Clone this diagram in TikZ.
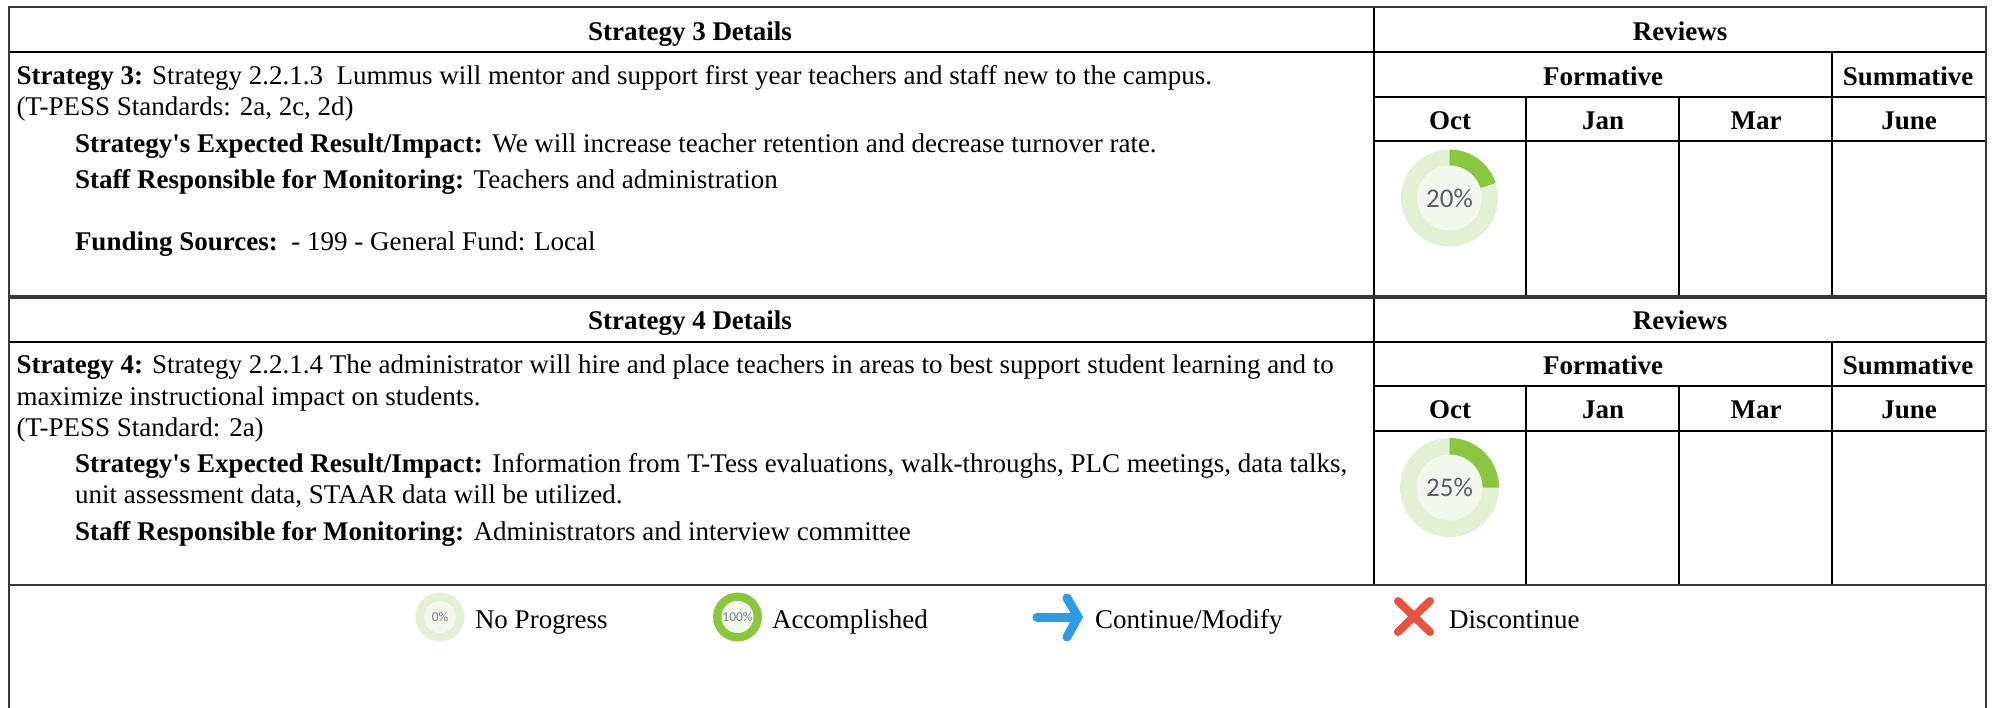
\documentclass[tikz,border=0pt]{standalone}
\usepackage{fontspec}
\setmainfont{Liberation Serif}
\newfontfamily\pctfont{Carlito}
\definecolor{ringlight}{HTML}{E2F0D3}
\definecolor{ringin}{HTML}{F2F8EC}
\definecolor{ringgreen}{HTML}{8BC63F}
\definecolor{arrowblue}{HTML}{2B9CE8}
\definecolor{crossred}{HTML}{EC5140}
\definecolor{pct}{HTML}{56606E}
\newcommand{\gapafter}{\hspace{9.5pt}}
\tikzset{
  txt/.style={anchor=base west,inner sep=0pt,outer sep=0pt,font=\fontsize{27}{31}\selectfont},
  hdr/.style={anchor=base,inner sep=0pt,outer sep=0pt,font=\fontsize{27}{31}\selectfont\bfseries},
  pctlabel/.style={anchor=center,inner sep=0pt,text=pct,font=\pctfont\fontsize{27}{27}\selectfont},
  pctsmall/.style={anchor=center,inner sep=0pt,text=pct!80,font=\pctfont\fontsize{13.5}{13.5}\selectfont},
  rule/.style={black,line width=1.7pt},
  frame/.style={black!78,line width=2.2pt}
}
\begin{document}
\begin{tikzpicture}[x=1pt,y=-1pt]
\useasboundingbox (0,0) rectangle (1995,708);
\fill[white] (0,0) rectangle (1995,708);
% rings
\fill[ringlight] (1449.5,198) circle[radius=48.5];
\fill[ringgreen] (1449.5,198) -- (1449.5,149.5) arc[start angle=-90,end angle=-18,radius=48.5] -- cycle;
\fill[ringin] (1449.5,198) circle[radius=32.5];
\node[pctlabel] (p20) at (1449.5,198) {20\%};
\fill[ringlight] (1449.5,487.5) circle[radius=49.5];
\fill[ringgreen] (1449.5,487.5) -- (1449.5,438) arc[start angle=-90,end angle=0,radius=49.5] -- cycle;
\fill[ringin] (1449.5,487.5) circle[radius=33];
\node[pctlabel] (p25) at (1449.5,487.5) {25\%};
% table 1
\draw[rule] (9,52) -- (1986,52);
\draw[rule] (1374,97) -- (1986,97);
\draw[rule] (1374,141) -- (1986,141);
\draw[rule] (1374,7) -- (1374,296);
\draw[rule] (1526,97) -- (1526,296);
\draw[rule] (1679,97) -- (1679,296);
\draw[rule] (1832,52) -- (1832,296);
% table 2
\draw[rule] (9,342) -- (1986,342);
\draw[rule] (1374,386) -- (1986,386);
\draw[rule] (1374,431) -- (1986,431);
\draw[rule] (1374,298) -- (1374,585);
\draw[rule] (1526,386) -- (1526,585);
\draw[rule] (1679,386) -- (1679,585);
\draw[rule] (1832,342) -- (1832,585);
% frame
\draw[frame] (9,7) -- (1986,7);
\draw[frame] (9,296) -- (1986,296);
\draw[frame] (9,298) -- (1986,298);
\draw[frame] (9,585) -- (1986,585);
\draw[frame] (9,6) -- (9,708);
\draw[frame] (1986,6) -- (1986,708);
% headers
\node[hdr] (h1) at (690,41) {Strategy 3 Details};
\node[hdr] (r1) at (1680,41) {Reviews};
\node[hdr] (f1) at (1603,85.5) {Formative};
\node[hdr] (s1) at (1908,85.5) {Summative};
\node[hdr] (o1) at (1450,129.5) {Oct};
\node[hdr] (j1) at (1603,129.5) {Jan};
\node[hdr] (m1) at (1756,129.5) {Mar};
\node[hdr] (u1) at (1909,129.5) {June};
\node[hdr] (h2) at (690,330) {Strategy 4 Details};
\node[hdr] (r2) at (1680,330) {Reviews};
\node[hdr] (f2) at (1603,374.5) {Formative};
\node[hdr] (s2) at (1908,374.5) {Summative};
\node[hdr] (o2) at (1450,418.5) {Oct};
\node[hdr] (j2) at (1603,418.5) {Jan};
\node[hdr] (m2) at (1756,418.5) {Mar};
\node[hdr] (u2) at (1909,418.5) {June};
% body 1
\node[txt] (a1) at (16.5,84.5) {\textbf{Strategy 3:} Strategy 2.2.1.3\ \ Lummus will mentor and support first year teachers and staff new to the campus.};
\node[txt] (a2) at (16.5,115.5) {(T-PESS Standards: 2a, 2c, 2d)};
\node[txt] (a3) at (75,152.5) {\textbf{Strategy\textquotesingle s Expected Result/Impact:}\gapafter We will increase teacher retention and decrease turnover rate.};
\node[txt] (a4) at (75,188.5) {\textbf{Staff Responsible for Monitoring:}\gapafter Teachers and administration};
\node[txt] (a5) at (75,250.5) {\textbf{Funding Sources:}\ \ - 199 - General Fund: Local};
% body 2
\node[txt] (b1) at (16.5,374) {\textbf{Strategy 4:} Strategy 2.2.1.4 The administrator will hire and place teachers in areas to best support student learning and to};
\node[txt] (b2) at (16.5,405.5) {maximize instructional impact on students.};
\node[txt] (b3) at (16.5,436.5) {(T-PESS Standard: 2a)};
\node[txt] (b4) at (75,472.5) {\textbf{Strategy\textquotesingle s Expected Result/Impact:}\gapafter Information from T-Tess evaluations, walk-throughs, PLC meetings, data talks,};
\node[txt] (b5) at (75,503.5) {unit assessment data, STAAR data will be utilized.};
\node[txt] (b6) at (75,540) {\textbf{Staff Responsible for Monitoring:}\gapafter Administrators and interview committee};
% legend
\fill[ringlight] (440,617) circle[radius=24.5];
\fill[ringin] (440,617) circle[radius=16];
\node[pctsmall] (p0) at (440,617) {0\%};
\fill[ringgreen] (737.5,617) circle[radius=24.5];
\fill[ringin] (737.5,617) circle[radius=16];
\node[pctsmall] (p100) at (737.5,617) {100\%};
\draw[arrowblue,line width=9pt,line cap=round] (1037,617) -- (1077,617);
\draw[arrowblue,line width=9pt,line cap=round,line join=miter] (1067,598) -- (1078,617) -- (1067,637);
\draw[crossred,line width=8pt,line cap=round] (1398,601) -- (1430,632);
\draw[crossred,line width=8pt,line cap=round] (1430,601) -- (1398,632);
\node[txt] (l1) at (475,628) {No Progress};
\node[txt] (l2) at (772,628) {Accomplished};
\node[txt] (l3) at (1095,628) {Continue/Modify};
\node[txt] (l4) at (1449,628) {Discontinue};
\end{tikzpicture}
\end{document}
